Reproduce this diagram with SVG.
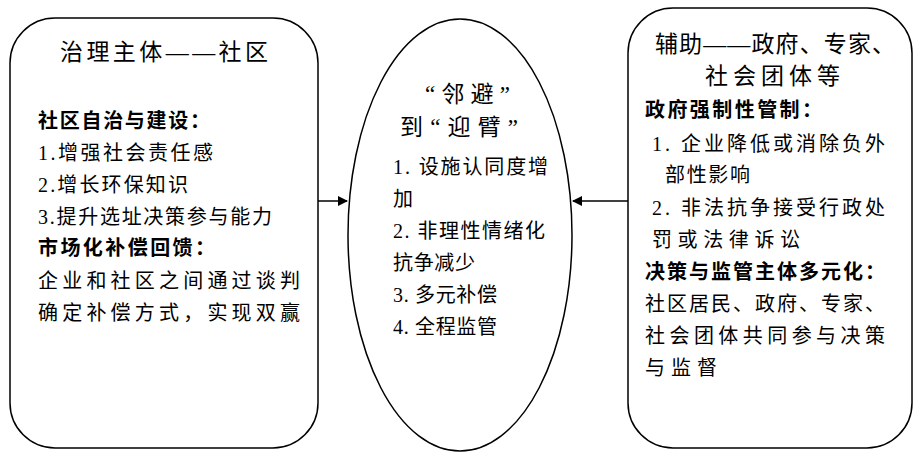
<svg xmlns="http://www.w3.org/2000/svg" width="922" height="457" viewBox="0 0 922 457">
<style>
text{font-family:"Liberation Serif","Noto Sans CJK SC",serif;font-size:20px;fill:#000}
.t{font-size:23px}
.b{font-weight:bold}
.box{fill:#fff;stroke:#000;stroke-width:1.5}
</style>
<defs><marker id="a" markerWidth="10" markerHeight="10" refX="9" refY="5" orient="auto" markerUnits="userSpaceOnUse"><path d="M0,0 L10,5 L0,10 z" fill="#000"/></marker></defs>
<rect width="922" height="457" fill="#fff"/>
<g id="left">
<rect class="box" x="10" y="18" width="308" height="430" rx="45"/>
<text class="t" x="60" y="60" textLength="208" lengthAdjust="spacing">治理主体——社区</text>
<text class="b" x="38" y="128" textLength="172" lengthAdjust="spacing">社区自治与建设：</text>
<text x="38" y="160" textLength="175" lengthAdjust="spacing">1.增强社会责任感</text>
<text x="38" y="192" textLength="150" lengthAdjust="spacing">2.增长环保知识</text>
<text x="38" y="224" textLength="234" lengthAdjust="spacing">3.提升选址决策参与能力</text>
<text class="b" x="38" y="255" textLength="177" lengthAdjust="spacing">市场化补偿回馈：</text>
<text x="38" y="288" textLength="262" lengthAdjust="spacing">企业和社区之间通过谈判</text>
<text x="38" y="320" textLength="262" lengthAdjust="spacing">确定补偿方式，实现双赢</text>
</g>
<g id="center">
<ellipse class="box" cx="460" cy="235" rx="112" ry="216"/>
<text class="t" x="425" y="102" textLength="85" lengthAdjust="spacing">“邻避”</text>
<text class="t" x="400" y="135" textLength="118" lengthAdjust="spacing">到“迎臂”</text>
<text x="393" y="174" textLength="155" lengthAdjust="spacing">1. 设施认同度增</text>
<text x="393" y="206">加</text>
<text x="393" y="238" textLength="152" lengthAdjust="spacing">2. 非理性情绪化</text>
<text x="393" y="270" textLength="82" lengthAdjust="spacing">抗争减少</text>
<text x="393" y="302" textLength="104" lengthAdjust="spacing">3. 多元补偿</text>
<text x="393" y="334" textLength="104" lengthAdjust="spacing">4. 全程监管</text>
</g>
<g id="right">
<rect class="box" x="628" y="8" width="284" height="440" rx="45"/>
<text class="t" x="655" y="52" textLength="240" lengthAdjust="spacing">辅助——政府、专家、</text>
<text class="t" x="705" y="84" textLength="135" lengthAdjust="spacing">社会团体等</text>
<text class="b" x="645" y="117" textLength="177" lengthAdjust="spacing">政府强制性管制：</text>
<text x="652" y="151" textLength="233" lengthAdjust="spacing">1. 企业降低或消除负外</text>
<text x="665" y="182" textLength="85" lengthAdjust="spacing">部性影响</text>
<text x="652" y="215" textLength="233" lengthAdjust="spacing">2. 非法抗争接受行政处</text>
<text x="652" y="247" textLength="148" lengthAdjust="spacing">罚或法律诉讼</text>
<text class="b" x="645" y="279" textLength="240" lengthAdjust="spacing">决策与监管主体多元化：</text>
<text x="645" y="311" textLength="240" lengthAdjust="spacing">社区居民、政府、专家、</text>
<text x="645" y="343" textLength="240" lengthAdjust="spacing">社会团体共同参与决策</text>
<text x="645" y="375" textLength="72" lengthAdjust="spacing">与监督</text>
</g>
<g id="connectors" stroke="#000" stroke-width="1.5">
<line x1="318" y1="201" x2="347" y2="201" marker-end="url(#a)"/>
<line x1="628" y1="201" x2="573" y2="201" marker-end="url(#a)"/>
</g>
</svg>
